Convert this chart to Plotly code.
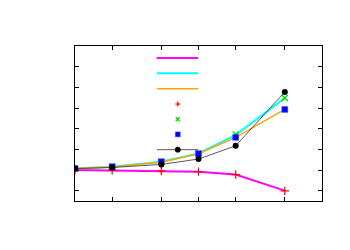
import plotly.graph_objects as go

# ---- data ----
x_vals = [1, 2, 5, 10, 20, 50]
magenta_line = [1.00, 0.98, 0.95, 0.92, 0.78, 0.00]
cyan_line = [1.07, 1.16, 1.40, 1.80, 2.69, 4.48]
orange_line = [1.07, 1.15, 1.38, 1.79, 2.58, 3.93]
red_plus = [0.99, 0.98, 0.95, 0.92, 0.78, -0.01]
green_x = [1.07, 1.16, 1.40, 1.80, 2.72, 4.48]
blue_sq = [1.07, 1.16, 1.40, 1.79, 2.58, 3.93]
black_lp = [1.07, 1.12, 1.27, 1.53, 2.17, 4.78]

x_ticks = [1, 2, 5, 10, 20, 50, 100]
y_ticks = [0, 1, 2, 3, 4, 5, 6, 7]

# ---- layout geometry (window pixels); page body has an 8px margin ----
OFF = 8
W, H = 350 - OFF, 250 - OFF
L, R, T, B = 75, 322.5, 45.5, 200.7

fig = go.Figure()
fig.add_trace(go.Scatter(x=x_vals, y=magenta_line, mode="lines",
                         line=dict(color="#ff00ff", width=2)))
fig.add_trace(go.Scatter(x=x_vals, y=cyan_line, mode="lines",
                         line=dict(color="#00ffff", width=2)))
fig.add_trace(go.Scatter(x=x_vals, y=orange_line, mode="lines",
                         line=dict(color="#ffa500", width=1.5)))
fig.add_trace(go.Scatter(x=x_vals, y=red_plus, mode="markers",
                         marker=dict(symbol="cross-thin-open", size=6, color="#ff0000",
                                     line=dict(color="#ff0000", width=1.2))))
fig.add_trace(go.Scatter(x=x_vals, y=green_x, mode="markers",
                         marker=dict(symbol="x-thin-open", size=6, color="#00e000",
                                     line=dict(color="#00e000", width=1.5))))
fig.add_trace(go.Scatter(x=x_vals, y=blue_sq, mode="markers",
                         marker=dict(symbol="square", size=6, color="#0000ff",
                                     line=dict(color="#4060ff", width=0.5))))
fig.add_trace(go.Scatter(x=x_vals, y=black_lp, mode="lines+markers",
                         line=dict(color="#303030", width=0.8),
                         marker=dict(symbol="circle", size=6, color="#000000")))


def px(xp):
    return (xp - L) / (R - L)


def py(yp):
    return (B - yp) / (B - T)


shapes = []
rows = [57.5, 72.8, 88.2, 103.6, 118.8, 134.0, 149.3]
kx0, kx1, kc = 157.0, 198.5, 178.0
line_keys = [(0, "#ff00ff", 2), (1, "#00ffff", 2), (2, "#ffa500", 1.5), (6, "#303030", 0.8)]
for r, c, w in line_keys:
    shapes.append(dict(type="line", xref="paper", yref="paper",
                       x0=px(kx0), x1=px(kx1), y0=py(rows[r]), y1=py(rows[r]),
                       line=dict(color=c, width=w)))
s = 2.5
# red plus
shapes.append(dict(type="line", xref="paper", yref="paper", x0=px(kc - s), x1=px(kc + s),
                   y0=py(rows[3]), y1=py(rows[3]), line=dict(color="#ff0000", width=1.2)))
shapes.append(dict(type="line", xref="paper", yref="paper", x0=px(kc), x1=px(kc),
                   y0=py(rows[3] - s), y1=py(rows[3] + s), line=dict(color="#ff0000", width=1.2)))
# green x
shapes.append(dict(type="line", xref="paper", yref="paper", x0=px(kc - 2), x1=px(kc + 2),
                   y0=py(rows[4] - 2), y1=py(rows[4] + 2), line=dict(color="#00e000", width=1.5)))
shapes.append(dict(type="line", xref="paper", yref="paper", x0=px(kc - 2), x1=px(kc + 2),
                   y0=py(rows[4] + 2), y1=py(rows[4] - 2), line=dict(color="#00e000", width=1.5)))
# blue square
shapes.append(dict(type="rect", xref="paper", yref="paper", x0=px(kc - 2.5), x1=px(kc + 2.5),
                   y0=py(rows[5] - 2.5), y1=py(rows[5] + 2.5), fillcolor="#0000ff",
                   line=dict(color="#4060ff", width=0.5)))
# black circle
shapes.append(dict(type="circle", xref="paper", yref="paper", x0=px(kc - 2.7), x1=px(kc + 2.7),
                   y0=py(rows[6] - 2.7), y1=py(rows[6] + 2.7), fillcolor="#000000",
                   line=dict(color="#000000", width=0.5)))

axis_common = dict(showgrid=False, zeroline=False, showline=True, linecolor="#000000",
                   linewidth=1, mirror="ticks", ticks="inside", ticklen=4,
                   tickcolor="#000000", showticklabels=False)

fig.update_layout(
    width=W, height=H,
    margin=dict(l=L - OFF, r=350 - R, t=T - OFF, b=250 - B, pad=0),
    paper_bgcolor="white", plot_bgcolor="white",
    showlegend=False,
    font=dict(family="DejaVu Sans", size=10),
    xaxis=dict(type="log", range=[0, 2], tickvals=x_ticks, **axis_common),
    yaxis=dict(range=[-0.5, 7], tickvals=y_ticks, **axis_common),
    shapes=shapes,
)

fig.write_html("out.html")
